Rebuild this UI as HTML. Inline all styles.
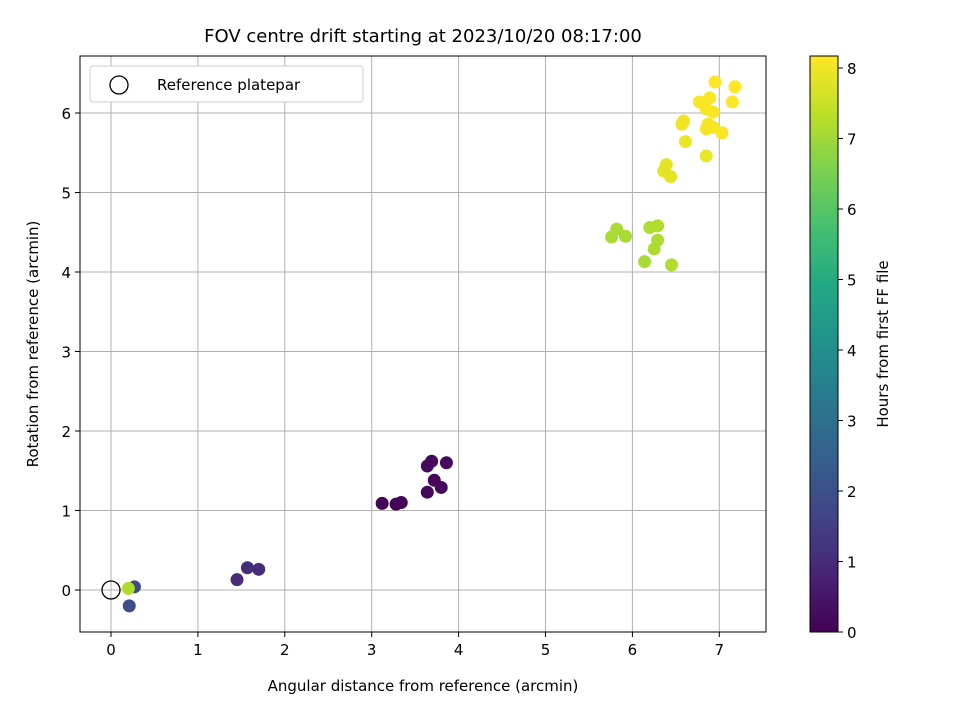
<!DOCTYPE html>
<html><head><meta charset="utf-8"><style>body{margin:0;background:#fff}svg{display:block;font-family:"DejaVu Sans","Liberation Sans",sans-serif}</style></head>
<body><svg id="c" width="960" height="720"></svg>
<script>
const xs=[6.95,7.18,6.89,6.77,6.85,6.93,7.15,6.87,6.85,6.93,7.03,6.57,6.59,6.61,6.85,6.39,6.36,6.44,
5.76,5.82,5.92,6.20,6.29,6.29,6.25,6.14,6.45,
3.12,3.28,3.34,3.64,3.69,3.72,3.80,3.64,3.86,
1.45,1.57,1.70,0.27,0.21,0.20];
const ys=[6.39,6.33,6.19,6.14,6.05,6.01,6.14,5.86,5.80,5.82,5.75,5.86,5.90,5.64,5.46,5.35,5.27,5.20,
4.44,4.54,4.45,4.56,4.58,4.40,4.29,4.13,4.09,
1.09,1.08,1.10,1.56,1.62,1.38,1.29,1.23,1.60,
0.13,0.28,0.26,0.04,-0.20,0.02];
const hours=[8.15,8.15,8.12,8.12,8.1,8.1,8.15,8.05,8.05,8.05,8.1,8.0,8.0,7.95,7.95,7.85,7.85,7.85,
7.1,7.1,7.1,7.2,7.2,7.15,7.15,7.1,7.2,
0.1,0.1,0.1,0.2,0.2,0.15,0.15,0.15,0.2,
1.0,1.0,1.0,1.8,1.9,7.2];
const xTicks=[0,1,2,3,4,5,6,7];
const yTicks=[0,1,2,3,4,5,6];
const cTicks=[0,1,2,3,4,5,6,7,8];
const NS='http://www.w3.org/2000/svg',svg=document.getElementById('c');
function el(t,a,p){const e=document.createElementNS(NS,t);for(const k in a)e.setAttribute(k,a[k]);(p||svg).appendChild(e);return e;}
const L=80,R=766,T=56,B=632;
const X=v=>111+v*86.9, Y=v=>590-v*79.5;
const cmax=8.17, CY=v=>632-v*(576/cmax);
const vir=['#440154','#482475','#414487','#355f8d','#2a788e','#21918c','#22a884','#44bf70','#7ad151','#bddf26','#fde725'];
function hx(c){return [1,3,5].map(i=>parseInt(c.substr(i,2),16));}
function col(t){t=Math.max(0,Math.min(1,t))*10;const i=Math.min(9,Math.floor(t)),f=t-i,a=hx(vir[i]),b=hx(vir[i+1]);return 'rgb('+a.map((v,k)=>Math.round(v+(b[k]-v)*f)).join(',')+')';}
xTicks.forEach(v=>{let g=el('line',{x1:X(v),x2:X(v),y1:T,y2:B,stroke:'#b0b0b0','stroke-width':1});
el('line',{x1:X(v),x2:X(v),y1:B,y2:B+5,stroke:'#000'});let t=el('text',{x:X(v),y:B+23,'text-anchor':'middle','font-size':15});t.textContent=v;});
yTicks.forEach(v=>{let g=el('line',{x1:L,x2:R,y1:Y(v),y2:Y(v),stroke:'#b0b0b0','stroke-width':1});
el('line',{x1:L-5,x2:L,y1:Y(v),y2:Y(v),stroke:'#000'});let t=el('text',{x:L-9,y:Y(v)+6,'text-anchor':'end','font-size':15});t.textContent=v;});
xs.forEach((x,i)=>{let c=el('circle',{cx:X(x),cy:Y(ys[i]),r:6.5,fill:col(hours[i]/cmax)});});
let rf=el('circle',{cx:X(0),cy:Y(0),r:9,fill:'none',stroke:'#000','stroke-width':1.3});
let fr=el('rect',{x:L,y:T,width:R-L,height:B-T,fill:'none',stroke:'#000','stroke-width':1});
let lg=el('g',{});
el('rect',{x:90,y:66,width:273,height:36,rx:3,fill:'#fff',stroke:'#ccc'},lg);
el('circle',{cx:119,cy:85,r:9,fill:'none',stroke:'#000','stroke-width':1.3},lg);
let lt=el('text',{x:157,y:90,'font-size':15},lg);lt.textContent='Reference platepar';
let tt=el('text',{x:423,y:42,'text-anchor':'middle','font-size':18});tt.textContent='FOV centre drift starting at 2023/10/20 08:17:00';
let xt=el('text',{x:423,y:691,'text-anchor':'middle','font-size':15});xt.textContent='Angular distance from reference (arcmin)';
let yt=el('text',{x:38,y:344,'text-anchor':'middle','font-size':15,transform:'rotate(-90 38 344)'});yt.textContent='Rotation from reference (arcmin)';
let defs=el('defs',{});let gr=el('linearGradient',{id:'vg',x1:0,y1:1,x2:0,y2:0},defs);
vir.forEach((c,i)=>el('stop',{offset:i/10,'stop-color':c},gr));
let cb=el('rect',{x:810,y:T,width:28,height:B-T,fill:'url(#vg)',stroke:'#000'});
cTicks.forEach(v=>{el('line',{x1:838,x2:843,y1:CY(v),y2:CY(v),stroke:'#000'});let t=el('text',{x:847,y:CY(v)+6,'font-size':15});t.textContent=v;});
let ct=el('text',{x:888,y:344,'text-anchor':'middle','font-size':15,transform:'rotate(-90 888 344)'});ct.textContent='Hours from first FF file';
</script></body></html>
